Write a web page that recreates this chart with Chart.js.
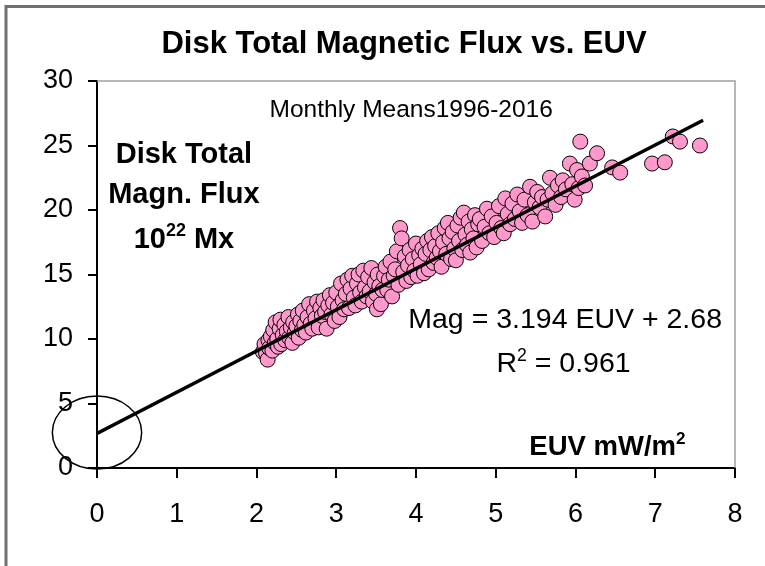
<!DOCTYPE html>
<html>
<head>
<meta charset="utf-8">
<script src="https://cdn.jsdelivr.net/npm/chart.js@4"></script>
<style>
  html, body { margin: 0; padding: 0; background: #fff; }
</style>
</head>
<body>
<canvas id="fluxChart" width="765" height="566"></canvas>
<script>
// monthly means 1996-2016
const euv = [
  2.08, 2.10, 2.12, 2.14, 2.15, 2.16, 2.18, 2.20, 2.21, 2.23, 2.24, 2.26, 2.27, 2.29, 2.30, 2.31,
  2.33, 2.35, 2.36, 2.38, 2.40, 2.41, 2.43, 2.45, 2.46, 2.48, 2.50, 2.52, 2.53, 2.55, 2.57, 2.58, 2.60,
  2.62, 2.64, 2.66, 2.68, 2.70, 2.72, 2.74, 2.76, 2.78, 2.80, 2.82, 2.84, 2.86, 2.88, 2.90, 2.92,
  2.94, 2.96, 2.98, 3.00, 3.02, 3.04, 3.06, 3.08, 3.10,
  3.12, 3.14, 3.16, 3.18, 3.20, 3.22, 3.24, 3.26, 3.28, 3.30, 3.32, 3.34, 3.36, 3.38, 3.40, 3.42,
  3.44, 3.46, 3.48, 3.50, 3.51, 3.52, 3.54, 3.56, 3.58, 3.60,
  3.62, 3.64, 3.66, 3.68, 3.70, 3.72, 3.74, 3.76, 3.78, 3.80, 3.82, 3.84, 3.86, 3.88, 3.90, 3.92,
  3.94, 3.96, 3.98, 4.00, 4.02, 4.04, 4.06, 4.08, 4.10, 4.12, 4.14, 4.16, 4.18, 4.20,
  4.22, 4.24, 4.26, 4.28, 4.30, 4.32, 4.34, 4.36, 4.38, 4.40, 4.42, 4.44, 4.46, 4.48, 4.50, 4.52,
  4.54, 4.56, 4.58, 4.60, 4.62, 4.64, 4.66, 4.68, 4.70, 4.72, 4.74, 4.76, 4.78,
  4.80, 4.83, 4.86, 4.89, 4.92, 4.95, 4.98, 5.01, 5.04, 5.07, 5.10, 5.12, 5.15, 5.18, 5.21, 5.24,
  5.27, 5.30, 5.33, 5.36, 5.40, 5.43, 5.46, 5.49,
  5.52, 5.55, 5.58, 5.62, 5.65, 5.68, 5.71, 5.75, 5.78, 5.82, 5.84, 5.88, 5.93, 5.96, 5.99, 6.02,
  6.04, 6.06, 6.08,
  6.12, 6.18, 6.27, 6.46, 6.56, 6.96, 7.12, 7.22, 7.31, 7.56
];
const flux = [
  9.0, 9.6, 8.9, 8.4, 9.9, 9.3, 10.2, 9.1, 10.7, 9.7, 11.3, 10.0, 9.4, 10.8, 11.5, 9.6,
  10.3, 11.1, 9.9, 10.6, 11.7, 10.1, 10.9, 9.7, 11.3, 10.5, 11.0, 11.9, 10.1, 11.4, 10.7, 12.2, 11.1,
  10.5, 11.7, 12.7, 11.2, 10.8, 12.2, 11.6, 12.9, 10.9, 12.4, 11.8, 13.0, 12.1, 10.8, 12.6, 13.4,
  11.9, 12.8, 11.4, 13.6, 12.5, 11.7, 14.3, 13.0, 12.3,
  13.5, 14.6, 12.4, 13.9, 14.9, 13.2, 12.6, 14.3, 15.0, 13.6, 12.9, 15.3, 14.0, 13.3, 14.8, 13.7,
  15.5, 12.9, 14.4, 13.5, 12.3, 15.0, 14.1, 12.7, 13.8, 14.9,
  15.6, 13.8, 14.6, 16.0, 13.3, 14.9, 15.4, 16.8, 14.2, 18.6, 17.8, 15.2, 16.4, 14.5, 15.7, 16.9,
  14.8, 16.2, 15.3, 17.4, 14.9, 16.5, 15.8, 17.0, 15.1, 16.6, 17.6, 15.4, 16.9, 17.9,
  15.9, 17.2, 16.3, 18.2, 16.8, 15.6, 17.5, 18.6, 16.6, 19.0, 17.8, 16.2, 18.3, 17.0, 16.1, 18.8,
  17.6, 19.4, 16.9, 19.8, 18.1, 17.3, 19.1, 16.7, 18.5, 17.8, 19.6, 17.1, 18.9,
  19.3, 17.6, 18.7, 20.1, 18.2, 19.5, 17.9, 19.0, 20.3, 18.6, 18.2, 20.9, 19.7, 18.9, 20.5, 19.3,
  21.2, 19.9, 19.0, 20.8, 19.6, 21.8, 19.1, 20.6,
  21.4, 20.2, 21.0, 19.5, 20.8, 22.5, 21.3, 20.4, 21.9, 21.0, 22.3, 21.6, 23.6, 22.0, 20.8, 23.1,
  21.7, 25.3, 22.6,
  21.9, 23.6, 24.4, 23.3, 22.9, 23.6, 23.7, 25.7, 25.3, 25.0
];

// trend line as printed on the chart
const trendSlope = 3.194;
const trendIntercept = 2.68;
const trendX = [0, 7.6];

const xTicks = [0, 1, 2, 3, 4, 5, 6, 7, 8];
const yTicks = [0, 5, 10, 15, 20, 25, 30];

const FONT = "'Liberation Sans', Arial, sans-serif";

// text with superscript pieces, centred on cx
function drawRich(ctx, parts, cx, baseline, size, bold) {
  const w = bold ? "bold " : "";
  let total = 0;
  parts.forEach(p => {
    ctx.font = w + (p.sup ? size * 0.62 : size) + "px " + FONT;
    p.w = ctx.measureText(p.t).width;
    total += p.w;
  });
  let x = cx - total / 2;
  ctx.textAlign = "left";
  ctx.textBaseline = "alphabetic";
  parts.forEach(p => {
    ctx.font = w + (p.sup ? size * 0.62 : size) + "px " + FONT;
    ctx.fillText(p.t, x, p.sup ? baseline - size * 0.4 : baseline);
    x += p.w;
  });
}

const decor = {
  id: "decor",
  beforeDraw(chart) {
    const ctx = chart.ctx;
    ctx.save();
    ctx.fillStyle = "#fff";
    ctx.fillRect(0, 0, chart.width, chart.height);
    // outer picture frame
    ctx.strokeStyle = "#707070";
    ctx.lineWidth = 3;
    ctx.beginPath();
    ctx.moveTo(6, chart.height);
    ctx.lineTo(6, 6.5);
    ctx.lineTo(chart.width, 6.5);
    ctx.stroke();
    ctx.restore();
  },
  beforeDatasetsDraw(chart) {
    const { ctx, chartArea: a } = chart;
    ctx.save();
    ctx.strokeStyle = "#a0a0a0";
    ctx.lineWidth = 1.5;
    ctx.beginPath();
    ctx.moveTo(a.left, a.top);
    ctx.lineTo(a.right, a.top);
    ctx.lineTo(a.right, a.bottom);
    ctx.stroke();
    ctx.restore();
  },
  afterDraw(chart) {
    const { ctx } = chart;
    const sx = chart.scales.x, sy = chart.scales.y;
    const px = v => sx.getPixelForValue(v);
    const py = v => sy.getPixelForValue(v);
    ctx.save();
    ctx.fillStyle = "#000";

    drawRich(ctx, [{ t: "Disk Total Magnetic Flux vs. EUV" }], 404, 53, 31, true);
    drawRich(ctx, [{ t: "Monthly Means1996-2016" }], px(3.94), py(27.2), 24.5, false);

    drawRich(ctx, [{ t: "Disk Total" }], px(1.09), py(23.64), 29, true);
    drawRich(ctx, [{ t: "Magn. Flux" }], px(1.09), py(20.54), 29, true);
    drawRich(ctx, [{ t: "10" }, { t: "22", sup: true }, { t: " Mx" }], px(1.09), py(17.05), 29, true);

    drawRich(ctx, [{ t: "Mag = 3.194 EUV + 2.68" }], px(5.87), py(10.85), 28.5, false);
    drawRich(ctx, [{ t: "R" }, { t: "2", sup: true }, { t: " = 0.961" }], px(5.85), py(7.44), 28.5, false);

    drawRich(ctx, [{ t: "EUV mW/m" }, { t: "2", sup: true }], px(6.4), py(1.0), 27.5, true);

    // circle round the intercept
    ctx.strokeStyle = "#000";
    ctx.lineWidth = 1.5;
    ctx.beginPath();
    ctx.ellipse(px(0), py(2.75), px(0.56) - px(0), py(0) - py(2.83), 0, 0, Math.PI * 2);
    ctx.stroke();
    ctx.restore();
  }
};

new Chart(document.getElementById("fluxChart"), {
  type: "scatter",
  data: {
    datasets: [
      {
        type: "line",
        data: trendX.map(x => ({ x, y: trendSlope * x + trendIntercept })),
        borderColor: "#000",
        borderWidth: 3.5,
        pointRadius: 0,
        order: 0
      },
      {
        data: euv.map((x, i) => ({ x, y: flux[i] })),
        backgroundColor: "#ff99cc",
        borderColor: "#000",
        borderWidth: 1,
        pointRadius: 7.5,
        order: 1
      }
    ]
  },
  options: {
    responsive: false,
    animation: false,
    events: [],
    layout: { padding: { left: 0, top: 81, right: 30, bottom: 0 } },
    plugins: { legend: { display: false }, tooltip: { enabled: false } },
    scales: {
      x: {
        type: "linear",
        min: 0,
        max: 8,
        afterFit: s => { s.height = 98; },
        afterBuildTicks: s => { s.ticks = xTicks.map(v => ({ value: v })); },
        ticks: { color: "#000", font: { family: FONT, size: 27 }, padding: 20 },
        grid: { drawOnChartArea: false, tickLength: 10, color: "#000", lineWidth: 2 },
        border: { color: "#000", width: 2 }
      },
      y: {
        min: 0,
        max: 30,
        afterFit: s => { s.width = 97; },
        afterBuildTicks: s => { s.ticks = yTicks.map(v => ({ value: v })); },
        ticks: { color: "#000", font: { family: FONT, size: 27 }, padding: 15 },
        grid: { drawOnChartArea: false, tickLength: 9, color: "#000", lineWidth: 2 },
        border: { color: "#000", width: 2 }
      }
    }
  },
  plugins: [decor]
});
</script>
</body>
</html>
